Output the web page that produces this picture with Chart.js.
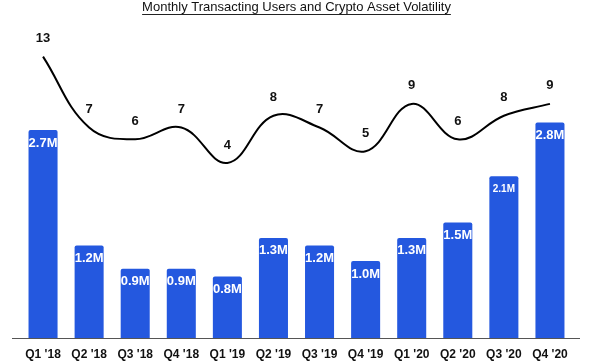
<!DOCTYPE html>
<html>
<head>
<meta charset="utf-8">
<script src="https://cdn.jsdelivr.net/npm/chart.js@4"></script>
<style>
    html, body { margin: 0; padding: 0; background: #fff; }
    #wrap { width: 600px; height: 364px; }
</style>
</head>
<body>
<div id="wrap"><canvas id="chart" width="600" height="364"></canvas></div>
<script>
// Data
const quarters = ["Q1 '18", "Q2 '18", "Q3 '18", "Q4 '18", "Q1 '19", "Q2 '19", "Q3 '19", "Q4 '19", "Q1 '20", "Q2 '20", "Q3 '20", "Q4 '20"];
const users = [2.7, 1.2, 0.9, 0.9, 0.8, 1.3, 1.2, 1.0, 1.3, 1.5, 2.1, 2.8]; // millions
const volatility = [13, 7, 6, 7, 4, 8, 7, 5, 9, 6, 8, 9];

const FONT = "'Liberation Sans', Arial, sans-serif";
const BLUE = '#2458df';

// Draws value labels (bars: inside top, line: above point)
const valueLabels = {
    id: 'valueLabels',
    afterDatasetsDraw(chart) {
        const c = chart.ctx;
        c.save();
        c.textAlign = 'center';
        c.textBaseline = 'middle';
        chart.getDatasetMeta(0).data.forEach((bar, i) => {
            const size = i === 10 ? 10 : 13;
            c.font = `bold ${size}px ${FONT}`;
            c.fillStyle = '#fff';
            c.fillText(users[i].toFixed(1) + 'M', bar.x, bar.y + 13);
        });
        c.font = `bold 13px ${FONT}`;
        c.fillStyle = '#111';
        chart.getDatasetMeta(1).data.forEach((pt, i) => {
            c.fillText(String(volatility[i]), pt.x, pt.y - 18);
        });
        c.restore();
    }
};

// Baseline under the bars and underline for the title
const decorations = {
    id: 'decorations',
    afterDraw(chart) {
        const c = chart.ctx;
        const area = chart.chartArea;
        const y0 = chart.scales.y.getPixelForValue(0);
        c.save();
        c.strokeStyle = '#555';
        c.lineWidth = 1;
        c.beginPath();
        c.moveTo(area.left - 8, Math.round(y0) + 0.5);
        c.lineTo(area.right + 7, Math.round(y0) + 0.5);
        c.stroke();

        const t = chart.titleBlock;
        c.font = `13px ${FONT}`;
        const w = c.measureText(chart.options.plugins.title.text).width;
        const cx = (t.left + t.right) / 2;
        c.strokeStyle = '#222';
        c.beginPath();
        c.moveTo(cx - w / 2, 14.5);
        c.lineTo(cx + w / 2, 14.5);
        c.stroke();
        c.restore();
    }
};

new Chart(document.getElementById('chart'), {
    data: {
        labels: quarters,
        datasets: [{
            type: 'bar',
            data: users,
            backgroundColor: BLUE,
            borderRadius: 2,
            barPercentage: 0.63,
            categoryPercentage: 1,
            yAxisID: 'y',
            order: 2
        }, {
            type: 'line',
            data: volatility,
            borderColor: '#000',
            borderWidth: 2,
            tension: 0.4,
            pointRadius: 0,
            fill: false,
            yAxisID: 'y1',
            order: 1
        }]
    },
    options: {
        responsive: false,
        animation: false,
        layout: { padding: { left: 20, right: 27, top: 0, bottom: 0 } },
        plugins: {
            legend: { display: false },
            tooltip: { enabled: false },
            title: {
                display: true,
                text: 'Monthly Transacting Users and Crypto Asset Volatility',
                color: '#111',
                font: { family: FONT, size: 13, weight: 'normal' },
                padding: { top: 0, bottom: 14.4 }
            }
        },
        scales: {
            x: {
                grid: { display: false, drawTicks: false, tickLength: 0 },
                border: { display: false },
                ticks: {
                    color: '#111',
                    padding: 9,
                    maxRotation: 0,
                    autoSkip: false,
                    font: { family: FONT, size: 12, weight: 'bold' }
                },
                afterFit(scale) { scale.height = 26; }
            },
            y: { display: false, min: 0, max: 4 },
            y1: { display: false, min: -10.8, max: 15.25 }
        }
    },
    plugins: [valueLabels, decorations]
});
</script>
</body>
</html>
